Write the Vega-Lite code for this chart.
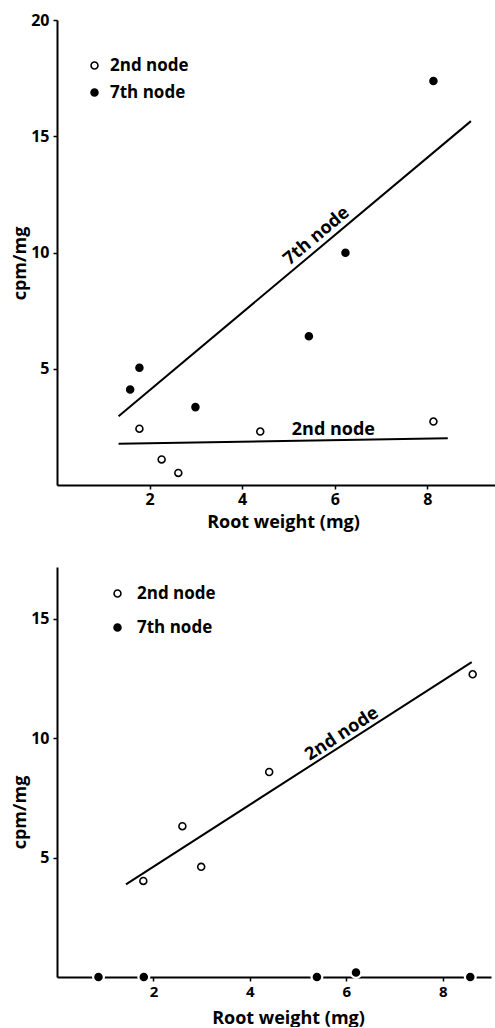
{
  "$schema": "https://vega.github.io/schema/vega-lite/v6.json",
  "padding": {"left": 11, "top": 12, "right": 0, "bottom": 0},
  "spacing": 36,
  "config": {
    "view": {"stroke": null},
    "axis": {
      "grid": false,
      "domainColor": "black",
      "domainWidth": 2,
      "tickColor": "black",
      "tickWidth": 1.5,
      "tickSize": 4,
      "labelColor": "black",
      "titleColor": "black",
      "labelFont": "Open Sans",
      "titleFont": "Open Sans",
      "labelFontWeight": "bold",
      "titleFontWeight": "bold",
      "labelFontSize": 16,
      "titleFontSize": 18
    },
    "legend": {
      "orient": "none",
      "title": null,
      "padding": 0,
      "labelFont": "Open Sans",
      "labelFontWeight": "bold",
      "labelFontSize": 17,
      "labelColor": "black",
      "symbolType": "circle",
      "symbolSize": 48,
      "symbolStrokeColor": "black",
      "symbolStrokeWidth": 1.6
    },
    "text": {"font": "Open Sans", "fontWeight": "bold", "fontSize": 18, "color": "black"}
  },
  "datasets": {
    "top_points": [
      {"weight": 1.58, "cpm": 4.11, "node": "7th node"},
      {"weight": 1.78, "cpm": 5.04, "node": "7th node"},
      {"weight": 2.99, "cpm": 3.35, "node": "7th node"},
      {"weight": 5.44, "cpm": 6.40, "node": "7th node"},
      {"weight": 6.23, "cpm": 9.99, "node": "7th node"},
      {"weight": 8.13, "cpm": 17.38, "node": "7th node"},
      {"weight": 1.78, "cpm": 2.42, "node": "2nd node"},
      {"weight": 2.26, "cpm": 1.10, "node": "2nd node"},
      {"weight": 2.62, "cpm": 0.52, "node": "2nd node"},
      {"weight": 4.39, "cpm": 2.30, "node": "2nd node"},
      {"weight": 8.13, "cpm": 2.73, "node": "2nd node"}
    ],
    "top_lines": [
      {"node": "7th node", "w1": 1.33, "c1": 2.96, "w2": 8.94, "c2": 15.65},
      {"node": "2nd node", "w1": 1.33, "c1": 1.77, "w2": 8.44, "c2": 2.01}
    ],
    "top_labels": [
      {"label": "7th node", "weight": 5.61, "cpm": 10.7},
      {"label": "2nd node", "weight": 5.97, "cpm": 2.37}
    ],
    "bottom_points": [
      {"weight": 1.79, "cpm": 4.02, "node": "2nd node"},
      {"weight": 2.60, "cpm": 6.31, "node": "2nd node"},
      {"weight": 2.99, "cpm": 4.61, "node": "2nd node"},
      {"weight": 4.40, "cpm": 8.58, "node": "2nd node"},
      {"weight": 8.62, "cpm": 12.67, "node": "2nd node"},
      {"weight": 0.86, "cpm": 0, "node": "7th node"},
      {"weight": 1.80, "cpm": 0, "node": "7th node"},
      {"weight": 5.39, "cpm": 0, "node": "7th node"},
      {"weight": 6.20, "cpm": 0.19, "node": "7th node"},
      {"weight": 8.57, "cpm": 0, "node": "7th node"}
    ],
    "bottom_lines": [
      {"node": "2nd node", "w1": 1.43, "c1": 3.88, "w2": 8.60, "c2": 13.18}
    ],
    "bottom_labels": [
      {"label": "2nd node", "weight": 5.91, "cpm": 10.16}
    ]
  },
  "resolve": {"scale": {"fill": "independent"}, "legend": {"fill": "independent"}},
  "vconcat": [
    {
      "width": 438,
      "height": 465,
      "layer": [
        {
          "data": {"name": "top_lines"},
          "mark": {"type": "rule", "color": "black", "strokeWidth": 2},
          "encoding": {
            "x": {"field": "w1", "type": "quantitative", "scale": {"domain": [0, 9.46], "nice": false, "zero": false},
              "axis": {"values": [2, 4, 6, 8], "title": "Root weight (mg)", "labelPadding": 2, "titleX": 226, "titleY": 28, "titleBaseline": "top"}},
            "y": {"field": "c1", "type": "quantitative", "scale": {"domain": [0, 20], "nice": false},
              "axis": {"values": [5, 10, 15, 20], "title": "cpm/mg", "labelPadding": 4, "titleX": -37, "titleY": 243, "titleBaseline": "middle", "titleAlign": "center", "titleAngle": 270}},
            "x2": {"field": "w2"},
            "y2": {"field": "c2"}
          }
        },
        {
          "data": {"name": "top_labels"},
          "transform": [{"filter": "datum.label == '7th node'"}],
          "mark": {"type": "text", "angle": -40, "align": "center", "baseline": "middle"},
          "encoding": {
            "x": {"field": "weight", "type": "quantitative"},
            "y": {"field": "cpm", "type": "quantitative"},
            "text": {"field": "label"}
          }
        },
        {
          "data": {"name": "top_labels"},
          "transform": [{"filter": "datum.label == '2nd node'"}],
          "mark": {"type": "text", "angle": 0, "align": "center", "baseline": "middle"},
          "encoding": {
            "x": {"field": "weight", "type": "quantitative"},
            "y": {"field": "cpm", "type": "quantitative"},
            "text": {"field": "label"}
          }
        },
        {
          "data": {"name": "top_points"},
          "mark": {"type": "point", "shape": "circle", "filled": true, "stroke": "black", "strokeWidth": 1.6, "size": 48, "opacity": 1},
          "encoding": {
            "x": {"field": "weight", "type": "quantitative"},
            "y": {"field": "cpm", "type": "quantitative"},
            "fill": {"field": "node", "type": "nominal", "scale": {"domain": ["2nd node", "7th node"], "range": ["white", "black"]},
              "legend": {"legendX": 29, "legendY": 37, "labelOffset": 7, "rowPadding": 9}}
          }
        }
      ]
    },
    {
      "width": 434,
      "height": 410,
      "layer": [
        {
          "data": {"name": "bottom_lines"},
          "mark": {"type": "rule", "color": "black", "strokeWidth": 2},
          "encoding": {
            "x": {"field": "w1", "type": "quantitative", "scale": {"domain": [0, 9], "nice": false, "zero": false},
              "axis": {"values": [2, 4, 6, 8], "title": "Root weight (mg)", "labelPadding": 3, "labelFontSize": 15, "titleX": 231, "titleY": 32, "titleBaseline": "top"}},
            "y": {"field": "c1", "type": "quantitative", "scale": {"domain": [0, 17.16], "nice": false},
              "axis": {"values": [5, 10, 15], "title": "cpm/mg", "labelPadding": 4, "titleX": -37, "titleY": 245, "titleBaseline": "middle", "titleAlign": "center", "titleAngle": 270}},
            "x2": {"field": "w2"},
            "y2": {"field": "c2"}
          }
        },
        {
          "data": {"name": "bottom_labels"},
          "mark": {"type": "text", "angle": -33, "align": "center", "baseline": "middle"},
          "encoding": {
            "x": {"field": "weight", "type": "quantitative"},
            "y": {"field": "cpm", "type": "quantitative"},
            "text": {"field": "label"}
          }
        },
        {
          "data": {"name": "bottom_points"},
          "transform": [{"filter": "datum.node == '7th node'"}],
          "mark": {"type": "point", "shape": "circle", "filled": true, "color": "white", "size": 170, "opacity": 1},
          "encoding": {
            "x": {"field": "weight", "type": "quantitative"},
            "y": {"field": "cpm", "type": "quantitative"}
          }
        },
        {
          "data": {"name": "bottom_points"},
          "mark": {"type": "point", "shape": "circle", "filled": true, "stroke": "black", "strokeWidth": 1.6, "size": 48, "opacity": 1},
          "encoding": {
            "x": {"field": "weight", "type": "quantitative"},
            "y": {"field": "cpm", "type": "quantitative"},
            "fill": {"field": "node", "type": "nominal", "scale": {"domain": ["2nd node", "7th node"], "range": ["white", "black"]},
              "legend": {"legendX": 52, "legendY": 18, "labelOffset": 11, "rowPadding": 16}}
          }
        }
      ]
    }
  ]
}
